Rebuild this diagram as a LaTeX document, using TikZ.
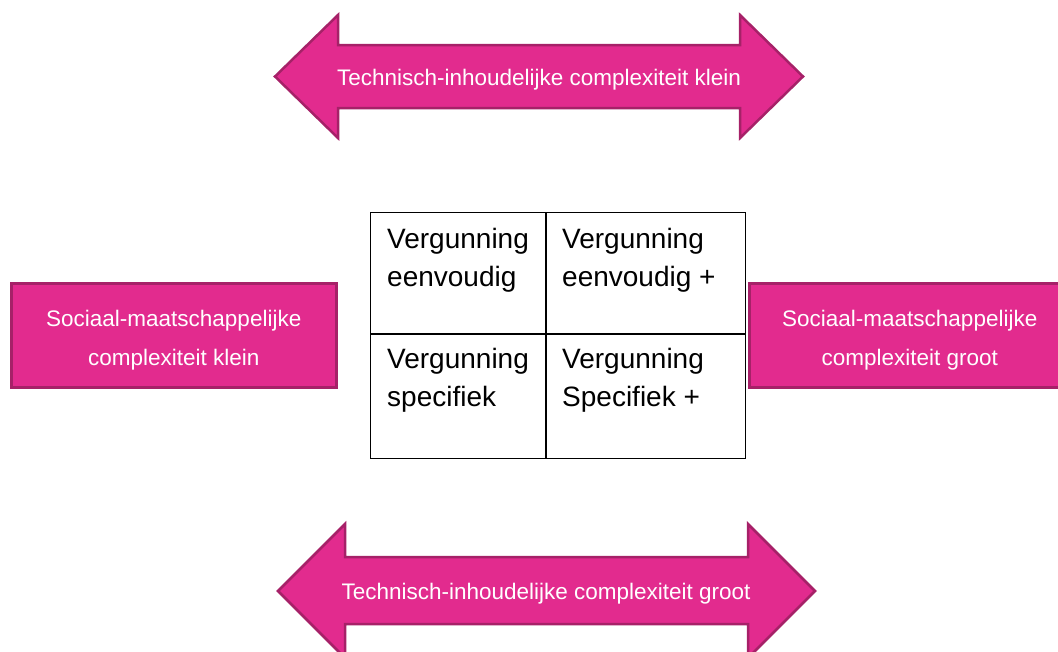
\documentclass[tikz,border=0pt]{standalone}
\usepackage{fontspec}
\setmainfont{Liberation Sans}
\usetikzlibrary{positioning}
\definecolor{pinkfill}{RGB}{226,43,142}
\definecolor{pinkline}{RGB}{166,33,104}
\tikzset{
  band/.style={fill=pinkfill, draw=pinkline, line width=2.5pt, line join=miter},
  bandtext/.style={text=white, font=\fontsize{22.5}{39}\selectfont, align=center},
  cell/.style={draw, line width=1.2pt, inner sep=0pt, anchor=north west},
  celltext/.style={font=\fontsize{28}{38}\selectfont, align=left, inner sep=0pt}
}

\begin{document}
\begin{tikzpicture}[x=1pt, y=-1pt]
\clip (0,0) rectangle (1058,651);

% arrows
\draw[band] (275,76.5) -- (338,15) -- (338,45) -- (740,45) -- (740,15) -- (803,76.5)
  -- (740,138) -- (740,108) -- (338,108) -- (338,138) -- cycle;
\node[bandtext] (tk) at (539,80) {Technisch-inhoudelijke complexiteit klein};

\draw[band] (278,591) -- (345,524) -- (345,557) -- (748,557) -- (748,524) -- (815,591)
  -- (748,658) -- (748,624) -- (345,624) -- (345,658) -- cycle;
\node[bandtext] (tg) at (546,594) {Technisch-inhoudelijke complexiteit groot};

% side boxes
\node[band, anchor=north west, minimum width=325, minimum height=104] (sk) at (10,282) {};
\node[bandtext] (skt) at ([yshift=-5pt]sk.center) {Sociaal-maatschappelijke\\complexiteit klein};
\node[band, anchor=north west, minimum width=321, minimum height=104] (sg) at (748,282) {};
\node[bandtext] (sgt) at ([yshift=-5pt]sg.center) {Sociaal-maatschappelijke\\complexiteit groot};

% table
\node[cell, minimum width=175, minimum height=121] (c1) at (370,212) {};
\node[cell, minimum width=200, minimum height=121] (c2) at (545,212) {};
\node[cell, minimum width=175, minimum height=125] (c3) at (370,333) {};
\node[cell, minimum width=200, minimum height=125] (c4) at (545,333) {};
\draw[line width=2.4pt] (c1.north east) -- (c3.south east);
\draw[line width=2.4pt] (c1.south west) -- (c2.south east);

\node[celltext, below right=16pt and 17pt of c1.north west] (t1) {Vergunning\\eenvoudig};
\node[celltext, below right=16pt and 17pt of c2.north west] (t2) {Vergunning\\eenvoudig +};
\node[celltext, below right=15pt and 17pt of c3.north west] (t3) {Vergunning\\specifiek};
\node[celltext, below right=15pt and 17pt of c4.north west] (t4) {Vergunning\\Specifiek +};
\end{tikzpicture}
\end{document}
